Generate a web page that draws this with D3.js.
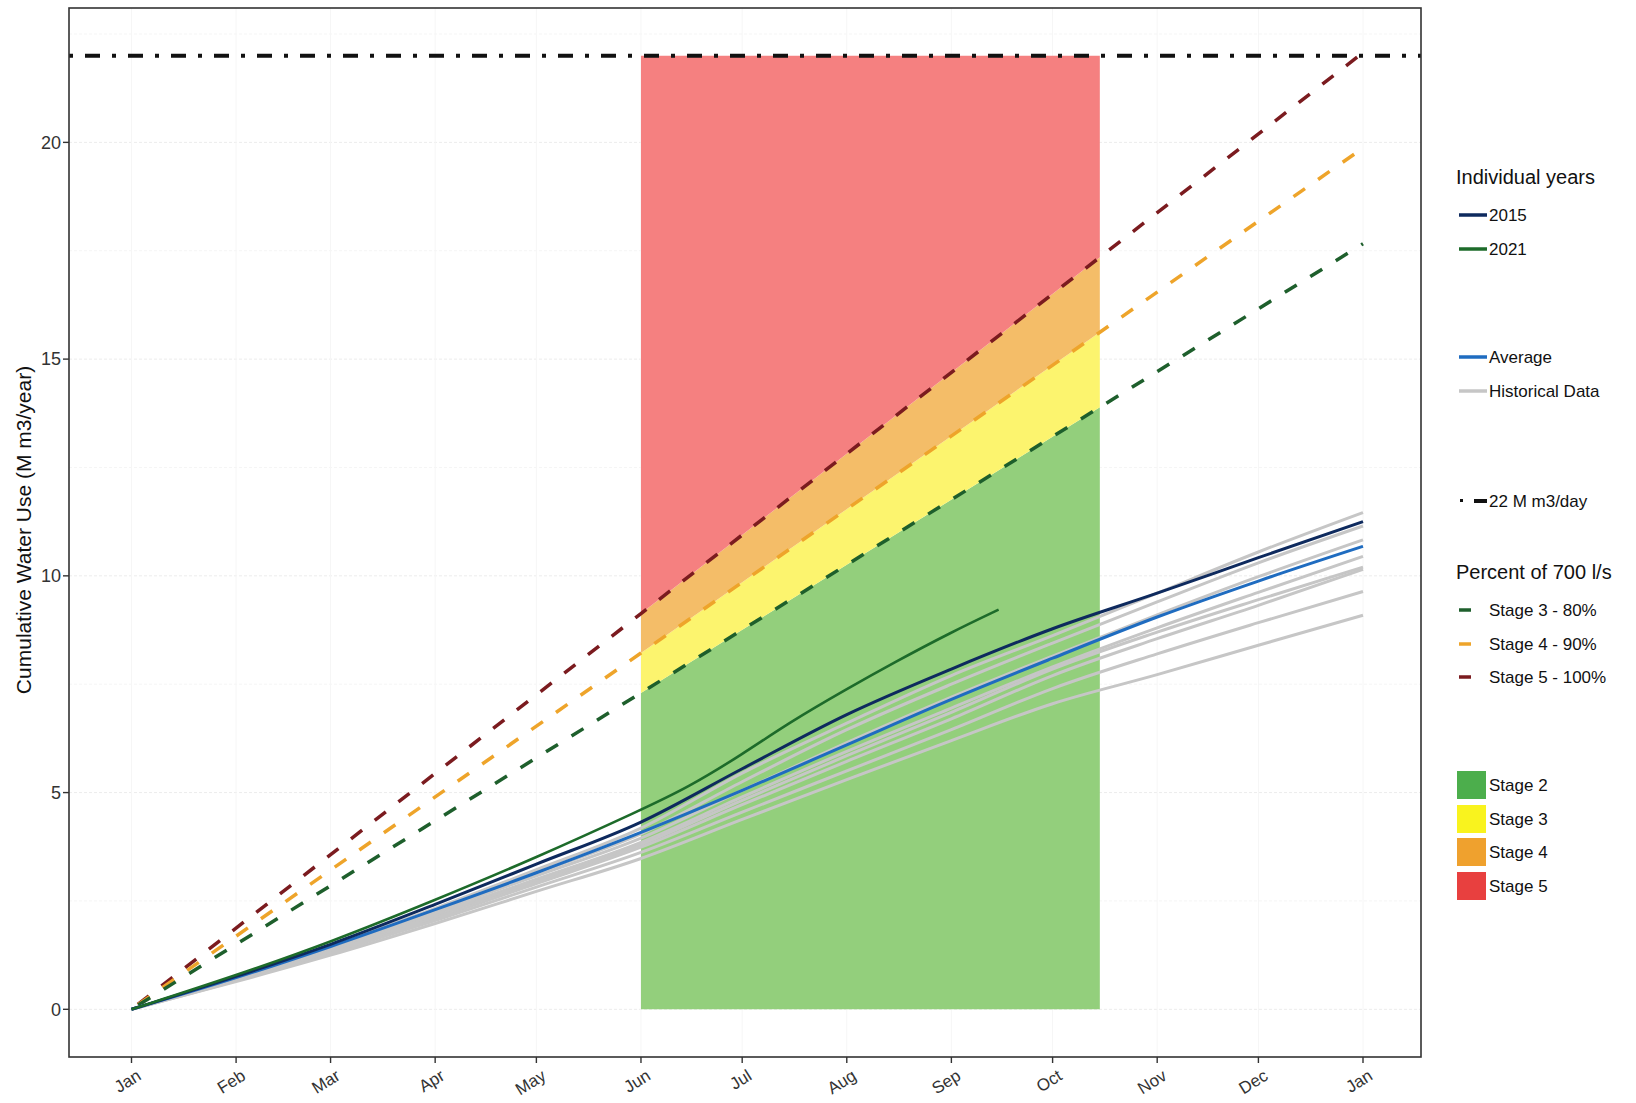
<!DOCTYPE html>
<html>
<head>
<meta charset="utf-8">
<script src="https://cdn.jsdelivr.net/npm/d3@7"></script>
<style>
  body { margin: 0; background: #fff; }
  svg { font-family: "Liberation Sans", Arial, sans-serif; }
</style>
</head>
<body>
<div id="chart"></div>
<script>
// month starts (x axis) and their labels
const monthDates = ["2021-01-01","2021-02-01","2021-03-01","2021-04-01","2021-05-01","2021-06-01",
  "2021-07-01","2021-08-01","2021-09-01","2021-10-01","2021-11-01","2021-12-01","2022-01-01"];
const monthLabels = ["Jan","Feb","Mar","Apr","May","Jun","Jul","Aug","Sep","Oct","Nov","Dec","Jan"];
const yTicks = [0, 5, 10, 15, 20];

// historical years, cumulative M m3 at each month start
const historical = [
  [0, 0.74, 1.47, 2.33, 3.22, 4.18, 5.45, 6.60, 7.70, 8.62, 9.60, 10.55, 11.46],
  [0, 0.73, 1.45, 2.30, 3.15, 4.05, 5.25, 6.45, 7.50, 8.45, 9.40, 10.30, 11.15],
  [0, 0.72, 1.42, 2.25, 3.08, 3.95, 5.05, 6.15, 7.20, 8.15, 9.10, 9.98, 10.83],
  [0, 0.70, 1.38, 2.20, 3.00, 3.85, 4.90, 5.95, 6.95, 7.90, 8.80, 9.62, 10.45],
  [0, 0.70, 1.37, 2.15, 2.95, 3.80, 4.82, 5.85, 6.85, 7.85, 8.70, 9.45, 10.20],
  [0, 0.68, 1.34, 2.10, 2.90, 3.74, 4.72, 5.72, 6.70, 7.70, 8.55, 9.32, 10.15],
  [0, 0.66, 1.30, 2.05, 2.82, 3.62, 4.55, 5.50, 6.45, 7.40, 8.20, 8.92, 9.64],
  [0, 0.64, 1.25, 1.98, 2.72, 3.48, 4.38, 5.30, 6.20, 7.05, 7.72, 8.40, 9.09]
];
const averageValues = [0, 0.73, 1.45, 2.30, 3.15, 4.08, 5.05, 6.10, 7.15, 8.10, 9.05, 9.88, 10.68];
const values2015 = [0, 0.76, 1.50, 2.42, 3.35, 4.32, 5.55, 6.80, 7.85, 8.78, 9.60, 10.42, 11.25];

const dates2021 = ["2021-01-01","2021-02-01","2021-03-01","2021-04-01","2021-05-01","2021-06-01",
  "2021-06-15","2021-07-01","2021-07-15","2021-08-01","2021-08-15","2021-09-01","2021-09-15"];
const values2021 = [0, 0.78, 1.55, 2.52, 3.50, 4.60, 5.12, 5.88, 6.62, 7.39, 8.00, 8.70, 9.22];

// stage thresholds (percent of 700 l/s), read at Jan 1, Jun 1, Oct 15, Jan 1
const stageDates = ["2021-01-01","2021-06-01","2021-10-15","2022-01-01"];
const stage3Values = [0, 7.30, 13.89, 17.66];
const stage4Values = [0, 8.22, 15.62, 19.87];
const stage5Values = [0, 9.13, 17.35, 22.07];
const capValue = 22;

const parse = d3.timeParse("%Y-%m-%d");
const W = 1636, H = 1103;
const panel = { left: 69, right: 1421, top: 8, bottom: 1057 };

const svg = d3.select("#chart").append("svg")
  .attr("width", W).attr("height", H);
svg.append("rect").attr("width", W).attr("height", H).attr("fill", "#fff");

const x = d3.scaleTime()
  .domain([parse(monthDates[0]), parse(monthDates[monthDates.length - 1])])
  .range([131.5, 1363]);
const y = d3.scaleLinear()
  .domain([-1.1, 23.1])
  .range([panel.bottom, panel.top]);

// faint grid
const grid = svg.append("g");
d3.range(0, 22.6, 2.5).forEach(v => {
  grid.append("line")
    .attr("x1", panel.left).attr("x2", panel.right)
    .attr("y1", y(v)).attr("y2", y(v))
    .attr("stroke", v % 5 === 0 ? "#ececec" : "#f5f5f5")
    .attr("stroke-dasharray", "3,2");
});
monthDates.forEach(d => {
  grid.append("line")
    .attr("x1", x(parse(d))).attr("x2", x(parse(d)))
    .attr("y1", panel.top).attr("y2", panel.bottom)
    .attr("stroke", "#f6f6f6");
});

// stage bands between Jun 1 and Oct 15
const stages = stageDates.map((d, i) => ({
  date: parse(d), s3: stage3Values[i], s4: stage4Values[i], s5: stage5Values[i]
})).slice(1, 3);

const bands = [
  { lo: d => 0, hi: d => d.s3, color: "#93cf7c" },
  { lo: d => d.s3, hi: d => d.s4, color: "#fcf46e" },
  { lo: d => d.s4, hi: d => d.s5, color: "#f4bd68" },
  { lo: d => d.s5, hi: d => capValue, color: "#f58080" }
];
bands.forEach(b => {
  svg.append("path")
    .datum(stages)
    .attr("fill", b.color)
    .attr("d", d3.area()
      .x(d => x(d.date))
      .y0(d => y(b.lo(d)))
      .y1(d => y(b.hi(d))));
});

// stage threshold lines
const stageLines = [
  { values: stage5Values, color: "#7b1b1f" },
  { values: stage4Values, color: "#eea42a" },
  { values: stage3Values, color: "#1e5f2c" }
];
const straight = d3.line().x(d => x(d.date)).y(d => y(d.v));
stageLines.forEach(s => {
  svg.append("path")
    .datum(stageDates.map((d, i) => ({ date: parse(d), v: s.values[i] })))
    .attr("fill", "none")
    .attr("stroke", s.color)
    .attr("stroke-width", 3.5)
    .attr("stroke-dasharray", "14,16")
    .attr("stroke-dashoffset", -8)
    .attr("d", straight);
});

// cumulative use curves
const curve = d3.line().x(d => x(d.date)).y(d => y(d.v)).curve(d3.curveMonotoneX);
const monthSeries = vals => monthDates.map((d, i) => ({ date: parse(d), v: vals[i] }));

historical.forEach(vals => {
  svg.append("path")
    .datum(monthSeries(vals))
    .attr("fill", "none").attr("stroke", "#c6c6c6").attr("stroke-width", 3)
    .attr("d", curve);
});
svg.append("path")
  .datum(monthSeries(averageValues))
  .attr("fill", "none").attr("stroke", "#1f6cc0").attr("stroke-width", 3)
  .attr("d", curve);
svg.append("path")
  .datum(monthSeries(values2015))
  .attr("fill", "none").attr("stroke", "#0e2a5e").attr("stroke-width", 3)
  .attr("d", curve);
svg.append("path")
  .datum(dates2021.map((d, i) => ({ date: parse(d), v: values2021[i] })))
  .attr("fill", "none").attr("stroke", "#1d6b2a").attr("stroke-width", 2.6)
  .attr("d", d3.line().x(d => x(d.date)).y(d => y(d.v)).curve(d3.curveBasis));

// 22 M m3 cap line
svg.append("line")
  .attr("x1", panel.left).attr("x2", panel.right)
  .attr("y1", y(capValue)).attr("y2", y(capValue))
  .attr("stroke", "#111").attr("stroke-width", 4)
  .attr("stroke-dasharray", "4,12,15,12");

// panel border
svg.append("rect")
  .attr("x", panel.left).attr("y", panel.top)
  .attr("width", panel.right - panel.left).attr("height", panel.bottom - panel.top)
  .attr("fill", "none").attr("stroke", "#333").attr("stroke-width", 1.6);

// y axis
yTicks.forEach(v => {
  svg.append("line")
    .attr("x1", panel.left - 6).attr("x2", panel.left)
    .attr("y1", y(v)).attr("y2", y(v))
    .attr("stroke", "#333").attr("stroke-width", 1.4);
  svg.append("text")
    .attr("x", panel.left - 8).attr("y", y(v))
    .attr("dy", "0.35em").attr("text-anchor", "end")
    .attr("font-size", 18).attr("fill", "#333")
    .text(v);
});
svg.append("text")
  .attr("transform", "translate(31,530) rotate(-90)")
  .attr("text-anchor", "middle")
  .attr("font-size", 21).attr("fill", "#111")
  .text("Cumulative Water Use (M m3/year)");

// x axis
monthDates.forEach((d, i) => {
  const px = x(parse(d));
  svg.append("line")
    .attr("x1", px).attr("x2", px)
    .attr("y1", panel.bottom).attr("y2", panel.bottom + 6)
    .attr("stroke", "#333").attr("stroke-width", 1.4);
  svg.append("text")
    .attr("transform", `translate(${px + 4},${panel.bottom + 11}) rotate(-32)`)
    .attr("text-anchor", "end").attr("dy", "0.75em")
    .attr("font-size", 17).attr("fill", "#333")
    .text(monthLabels[i]);
});

// legend
const lg = svg.append("g").attr("font-size", 17).attr("fill", "#111");
const title = (t, ty) => lg.append("text").attr("x", 1456).attr("y", ty)
  .attr("dy", "0.35em").attr("font-size", 20).text(t);
const lineKey = (label, ky, color, x2, lx, w) => {
  lg.append("line").attr("x1", 1459).attr("x2", x2).attr("y1", ky).attr("y2", ky)
    .attr("stroke", color).attr("stroke-width", w || 3.5);
  lg.append("text").attr("x", lx).attr("y", ky).attr("dy", "0.35em").text(label);
};
title("Individual years", 177);
lineKey("2015", 215, "#0e2a5e", 1487, 1489);
lineKey("2021", 249, "#1d6b2a", 1487, 1489);
lineKey("Average", 357, "#1f6cc0", 1487, 1489);
lineKey("Historical Data", 391, "#c6c6c6", 1487, 1489);
lg.append("rect").attr("x", 1460).attr("y", 499).attr("width", 3).attr("height", 3).attr("fill", "#111");
lg.append("line").attr("x1", 1474).attr("x2", 1487).attr("y1", 501).attr("y2", 501)
  .attr("stroke", "#111").attr("stroke-width", 4);
lg.append("text").attr("x", 1489).attr("y", 501).attr("dy", "0.35em").text("22 M m3/day");

title("Percent of 700 l/s", 572);
lineKey("Stage 3 - 80%", 610, "#1e5f2c", 1471, 1489);
lineKey("Stage 4 - 90%", 644, "#eea42a", 1471, 1489);
lineKey("Stage 5 - 100%", 677, "#7b1b1f", 1471, 1489);

const boxes = [
  { label: "Stage 2", color: "#4cae4c", cy: 785 },
  { label: "Stage 3", color: "#f9f31e", cy: 819 },
  { label: "Stage 4", color: "#efa12e", cy: 852 },
  { label: "Stage 5", color: "#e8403f", cy: 886 }
];
boxes.forEach(b => {
  lg.append("rect").attr("x", 1457).attr("y", b.cy - 14).attr("width", 29).attr("height", 28)
    .attr("fill", b.color);
  lg.append("text").attr("x", 1489).attr("y", b.cy).attr("dy", "0.35em").text(b.label);
});
</script>
</body>
</html>
